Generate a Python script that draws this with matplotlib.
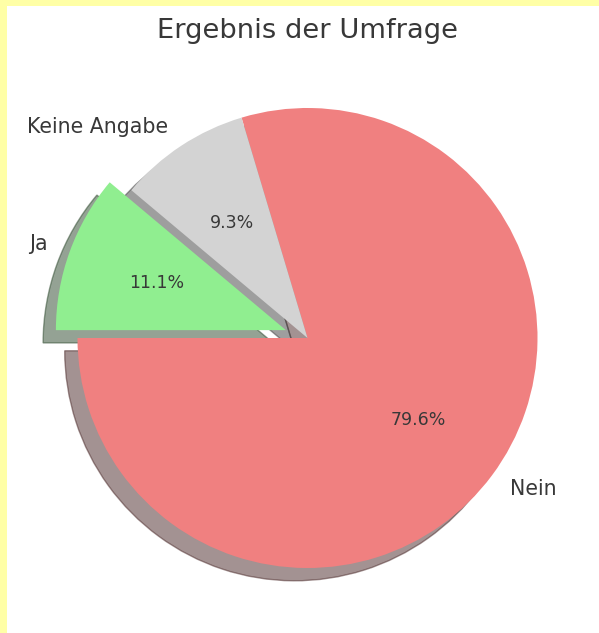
import matplotlib
matplotlib.use("Agg")
import matplotlib.pyplot as plt
from matplotlib.patches import Rectangle

labels = ["Nein", "Keine Angabe", "Ja"]
counts = [86, 10, 12]
colors = ["lightcoral", "lightgray", "lightgreen"]
explode = [0, 0, 0.1]
title = "Ergebnis der Umfrage"

W, H = 599, 633
fig = plt.figure(figsize=(W / 100, H / 100), dpi=100)
fig.patch.set_facecolor("white")

ax = fig.add_axes([20 / W, 7.5 / H, 575 / W, 575 / H])
wedges, texts, autotexts = ax.pie(
    counts, labels=labels, colors=colors, explode=explode,
    autopct="%1.1f%%", startangle=180, counterclock=True,
    shadow={"ox": -0.04, "oy": -0.04},
    textprops={"color": "#383838", "fontsize": 14.8},
)
for t in autotexts:
    t.set_fontsize(12.5)
ax.set_aspect("equal")
ax.set_xlim(-1.25, 1.25)
ax.set_ylim(-1.25, 1.25)

fig.text(307.5 / W, 1 - 31 / H, title, ha="center", va="center",
         fontsize=19.7, color="#383838")

# yellow frame on left and top edges
fig.patches.append(Rectangle((0, 0), 7 / W, 1, transform=fig.transFigure,
                             facecolor="#ffffa6", edgecolor="none", zorder=10))
fig.patches.append(Rectangle((0, 1 - 6 / H), 1, 6 / H, transform=fig.transFigure,
                             facecolor="#ffffa6", edgecolor="none", zorder=10))

fig.savefig("out.png", dpi=100)
